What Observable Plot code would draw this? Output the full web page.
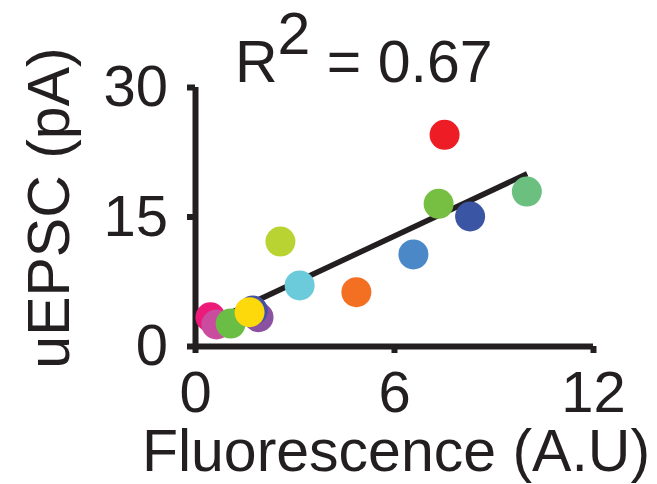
<!DOCTYPE html>
<html><head><meta charset="utf-8">
<script src="https://cdn.jsdelivr.net/npm/d3@7"></script>
<script src="https://cdn.jsdelivr.net/npm/@observablehq/plot@0.6"></script>
<style>
body{margin:0;background:#fff}
#chart{position:relative;width:657px;height:484px}
</style>
</head><body><div id="chart"></div>
<script>
// Data
const fluorescence = [0.45, 0.63, 1.06, 1.90, 1.73, 1.63, 2.56, 3.14, 4.85, 6.57, 7.51, 7.33, 8.28, 9.99];
const uepsc        = [3.39, 2.55, 2.66, 3.39, 4.17, 3.97, 12.16, 7.07, 6.29, 10.66, 24.52, 16.53, 15.06, 17.95];
const dotColors    = ["#ec1a79", "#c94c9e", "#6abd45", "#8c52a2", "#4452a5", "#fdd80a", "#b9d432", "#6bcbdb", "#f37022", "#4a88c8", "#ee1c25", "#77bf43", "#3b55a5", "#6bbf7f"];
const fitX = [0.45, 10];
const fitY = [2.8, 20.0];
const xTicks = [0, 6, 12];
const yTicks = [0, 15, 30];
const xLabel = "Fluorescence (A.U)";
const yLabel = "uEPSC (pA)";
const titleBase = "R";
const titleSup = "2";
const titleRest = " = 0.67";

const ink = "#231f20";
const points = fluorescence.map((x, i) => ({x, y: uepsc[i], c: dotColors[i]}));
const fit = fitX.map((x, i) => ({x, y: fitY[i]}));

const chart = Plot.plot({
  width: 657,
  height: 484,
  marginLeft: 195,
  marginRight: 64,
  marginTop: 87,
  marginBottom: 138,
  style: {fontFamily: "'Liberation Sans', Arial, sans-serif", fontSize: "58px", color: ink, background: "#fff"},
  x: {domain: [0, 12]},
  y: {domain: [0, 30]},
  color: {type: "identity"},
  marks: [
    Plot.ruleX([0], {y1: 0, y2: 30, stroke: ink, strokeWidth: 6}),
    Plot.ruleY([0], {x1: 0, x2: 12, stroke: ink, strokeWidth: 6}),
    Plot.axisY(yTicks, {tickSize: 8, tickPadding: 19.5, stroke: ink, strokeWidth: 6, fill: ink, fontSize: 58, label: null}),
    Plot.axisX(xTicks, {tickSize: 7, tickPadding: 17, stroke: ink, strokeWidth: 6, fill: ink, fontSize: 58, label: null}),
    Plot.line(fit, {x: "x", y: "y", stroke: ink, strokeWidth: 5.5, strokeLinecap: "butt"}),
    Plot.dot(points, {x: "x", y: "y", r: 15, fill: "c", stroke: "none"}),
    Plot.text([xLabel], {frameAnchor: "bottom", lineAnchor: "bottom", textAnchor: "middle", dy: 124, dx: 1.5, fontSize: 59, fill: ink}),
    Plot.text([yLabel], {frameAnchor: "left", rotate: -90, lineAnchor: "bottom", textAnchor: "middle", dx: -126.7, dy: -9, fontSize: 59, fill: ink})
  ]
});

const svg = d3.select(chart);
const t = svg.append("text")
  .attr("x", 235).attr("y", 82)
  .attr("font-size", 59)
  .attr("text-anchor", "start")
  .attr("fill", ink)
  .style("white-space", "pre");
t.append("tspan").text(titleBase);
t.append("tspan").attr("dy", -28).text(titleSup);
t.append("tspan").attr("dy", 28).text(titleRest);

document.getElementById("chart").appendChild(chart);
</script>
</body></html>
